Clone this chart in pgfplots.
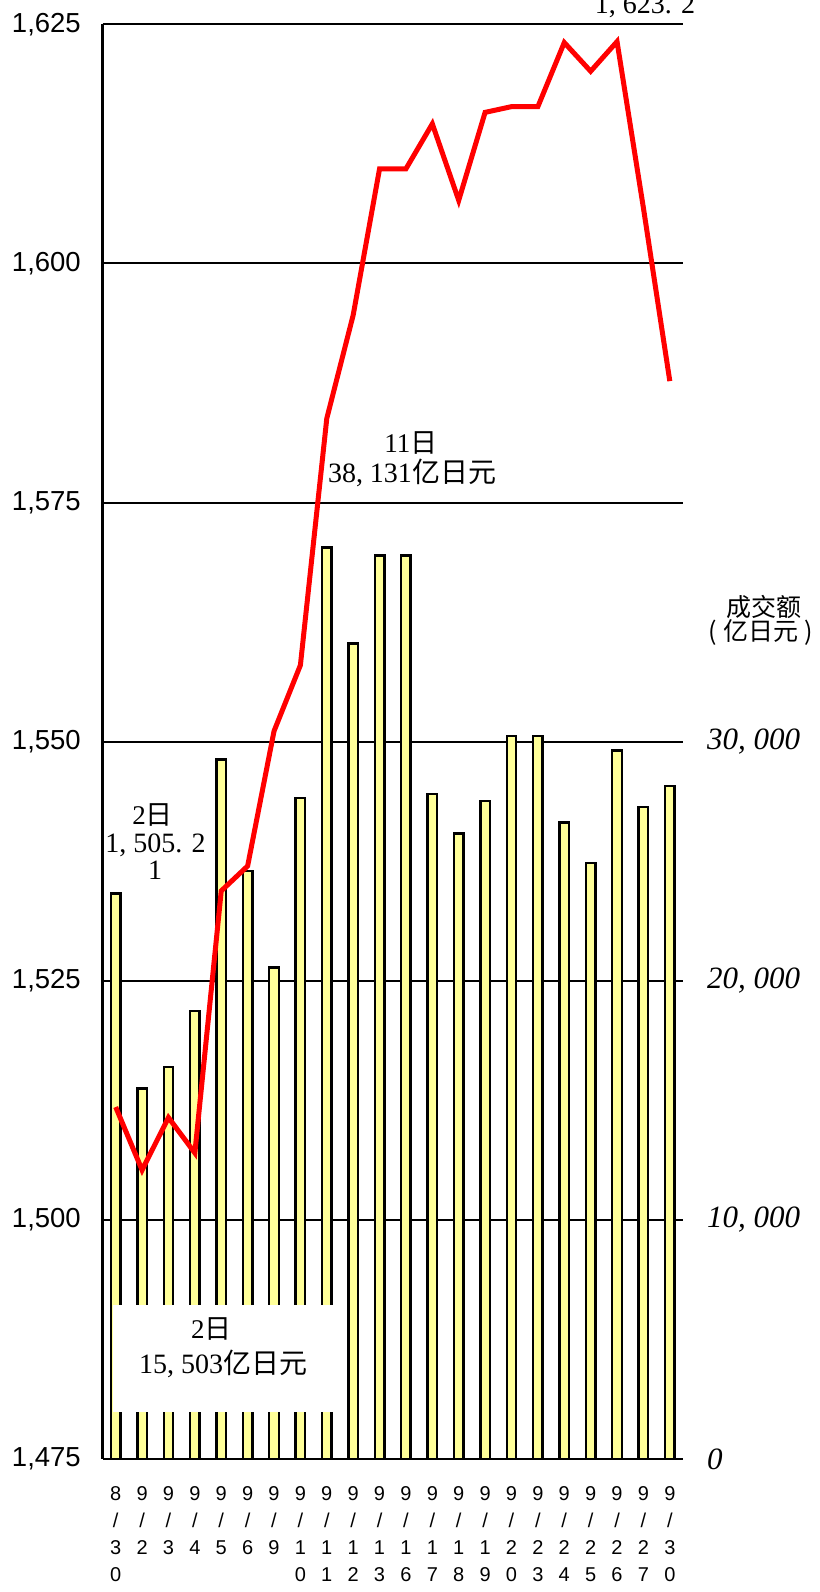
\documentclass[border=0pt]{standalone}
\usepackage{fontspec}
\setmainfont{Liberation Sans}
\newfontfamily\serif{Liberation Serif}
\newfontfamily\cjk{Noto Sans CJK SC}
\usepackage{pgfplots}
\pgfplotsset{compat=1.18}
\usepackage{pgfplotstable}
\definecolor{baryel}{RGB}{255,255,153}
\definecolor{linered}{RGB}{255,0,0}

\pgfplotstableread{
x v
0 23650
1 15503
2 16390
3 18730
4 29260
5 24590
6 20550
7 27640
8 38131
9 34100
10 37790
11 37790
12 27810
13 26160
14 27520
15 30230
16 30230
17 26620
18 24930
19 29640
20 27260
21 28150
}\bardata

\pgfplotstableread{
x v
0 1511.8
1 1505.21
2 1510.7
3 1507.0
4 1534.4
5 1537.0
6 1551.1
7 1558.0
8 1583.8
9 1594.6
10 1609.9
11 1609.9
12 1614.6
13 1606.6
14 1615.8
15 1616.4
16 1616.4
17 1623.1
18 1620.1
19 1623.2
20 1605.8
21 1587.7
}\linedata

\begin{document}
\begin{tikzpicture}
\path[use as bounding box] (0,0) rectangle (819pt,1592pt);
\pgfplotsset{base/.style={at={(102.5pt,133pt)}, anchor=south west, scale only axis,
  width=580.5pt, height=1434.6pt, xmin=-0.5, xmax=21.5}}
% left axis with grid
\begin{axis}[base, ymin=1475, ymax=1625,
  axis x line*=bottom, axis y line*=left,
  axis line style={line width=2.2pt, black},
  ytick={1475,1500,1525,1550,1575,1600,1625},
  yticklabels={{1,475},{1,500},{1,525},{1,550},{1,575},{1,600},{1,625}},
  ymajorgrids, major grid style={black, line width=2pt},
  xtick={0,...,21},
  xticklabels={{8\\/\\3\\0},{9\\/\\2},{9\\/\\3},{9\\/\\4},{9\\/\\5},{9\\/\\6},{9\\/\\9},
    {9\\/\\1\\0},{9\\/\\1\\1},{9\\/\\1\\2},{9\\/\\1\\3},{9\\/\\1\\6},{9\\/\\1\\7},{9\\/\\1\\8},
    {9\\/\\1\\9},{9\\/\\2\\0},{9\\/\\2\\3},{9\\/\\2\\4},{9\\/\\2\\5},{9\\/\\2\\6},{9\\/\\2\\7},{9\\/\\3\\0}},
  tick style={draw=none}, major tick length=0pt,
  yticklabel style={anchor=east, inner sep=0pt, xshift=-21.5pt, font=\fontsize{27.5}{30}\selectfont},
  xticklabel style={anchor=north, inner sep=0pt, yshift=-27pt, align=center, font=\fontsize{20}{27}\selectfont},
]
\addplot[draw=none] coordinates {(0,1500)};
\end{axis}
% bars, right axis
\begin{axis}[base, ymin=0, ymax=60000,
  axis x line=none, axis y line*=right, y axis line style={draw=none},
  ytick={0,10000,20000,30000},
  yticklabels={{0},{10, 000},{20, 000},{30, 000}},
  scaled y ticks=false,
  tick style={draw=none}, major tick length=0pt,
  yticklabel style={anchor=west, inner sep=0pt, xshift=24pt, font=\serif\itshape\fontsize{31}{33}\selectfont},
  ybar, bar width=9.5pt, bar shift=0pt,
]
\addplot[fill=baryel, draw=black, line width=2.4pt] table[x=x,y=v]{\bardata};
\end{axis}
% line and annotations
\begin{axis}[base, ymin=1475, ymax=1625, hide axis, clip=false]
\fill[white] (axis cs:-0.1,1479.9) rectangle (axis cs:8.31,1491.1);
\addplot[linered, line width=5pt, mark=none] table[x=x,y=v]{\linedata};
\node[anchor=base, inner sep=0pt, font=\serif\fontsize{28}{30}\selectfont] at (axis cs:20.06,1626.1) {1, 623. 2};
\node[anchor=base, inner sep=0pt, font=\fontsize{27}{30}\selectfont] at (axis cs:11.19,1580.2) {{\serif 11}{\cjk 日}};
\node[anchor=base, inner sep=0pt, font=\fontsize{28}{30}\selectfont] at (axis cs:11.23,1577.15) {{\serif 38, 131}{\cjk 亿日元}};
\node[anchor=base, inner sep=0pt, font=\fontsize{27}{30}\selectfont] at (axis cs:1.395,1541.3) {{\serif 2}{\cjk 日}};
\node[anchor=base, inner sep=0pt, font=\serif\fontsize{28}{30}\selectfont] at (axis cs:1.508,1538.4) {1, 505. 2};
\node[anchor=base, inner sep=0pt, font=\serif\fontsize{28}{30}\selectfont] at (axis cs:1.49,1535.6) {1};
\node[anchor=base, inner sep=0pt, font=\fontsize{27}{30}\selectfont] at (axis cs:3.63,1487.65) {{\serif 2}{\cjk 日}};
\node[anchor=base, inner sep=0pt, font=\fontsize{28}{30}\selectfont] at (axis cs:4.07,1483.99) {{\serif 15, 503}{\cjk 亿日元}};
\node[anchor=base, inner sep=0pt, font=\cjk\fontsize{25}{27}\selectfont] at (axis cs:24.57,1563.04) {成交额};
\node[anchor=base, inner sep=0pt, font=\cjk\fontsize{25}{27}\selectfont] at (axis cs:24.45,1560.63) {(\hspace{6pt}亿日元\hspace{6pt})};
\end{axis}
\end{tikzpicture}
\end{document}
